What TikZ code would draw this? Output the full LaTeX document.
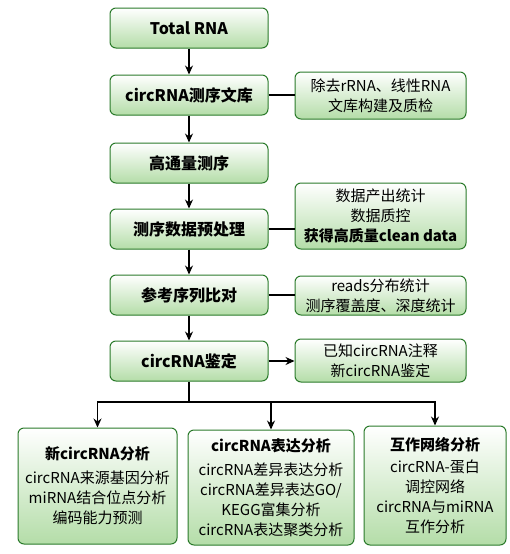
\documentclass[tikz,border=0pt]{standalone}
\usepackage{fontspec}
\setmainfont{Noto Sans CJK SC}
\usetikzlibrary{arrows.meta,positioning}
\definecolor{boxline}{HTML}{2A7A2A}
\definecolor{boxfill}{HTML}{B4DDA8}

\begin{document}
\begin{tikzpicture}[x=1pt,y=-1pt]
\tikzset{
  flowbox/.style={rectangle,rounded corners=6pt,draw=boxline,line width=1pt,
    top color=white,bottom color=boxfill,align=center,inner sep=2pt},
  mainbox/.style={flowbox,minimum width=158pt,minimum height=40pt,
    font=\fontsize{16}{20}\selectfont\bfseries},
  sidebox/.style={flowbox,minimum width=171pt,font=\fontsize{15}{20}\selectfont},
  resultbox/.style={flowbox,font=\fontsize{15}{20}\selectfont},
  directed/.style={-{Stealth[length=9pt,width=8pt]},line width=1.2pt},
  undirected/.style={line width=1.2pt}
}
\useasboundingbox (0,0) rectangle (509,554);
\node[mainbox] (n_m1) at (189,28) {Total RNA};
\node[mainbox] (n_m2) at (189,95) {circRNA测序文库};
\node[mainbox] (n_m3) at (189,163) {高通量测序};
\node[mainbox] (n_m4) at (189,229) {测序数据预处理};
\node[mainbox] (n_m5) at (189,295) {参考序列比对};
\node[mainbox] (n_m6) at (189,361) {circRNA鉴定};
\node[sidebox,minimum height=47pt] (n_r1) at (380.5,95.5) {除去rRNA、线性RNA\\文库构建及质检};
\node[sidebox,minimum height=66pt] (n_r2) at (380.5,216) {数据产出统计\\数据质控\\\textbf{获得高质量clean data}};
\node[sidebox,minimum height=39pt] (n_r3) at (380.5,295.5) {reads分布统计\\测序覆盖度、深度统计};
\node[sidebox,minimum height=43pt] (n_r4) at (380.5,360.5) {已知circRNA注释\\新circRNA鉴定};
\node[resultbox,minimum width=159pt,minimum height=116pt] (n_b1) at (97.5,486)
  {\textbf{新circRNA分析}\\[4pt]circRNA来源基因分析\\miRNA结合位点分析\\编码能力预测};
\node[resultbox,minimum width=166pt,minimum height=115pt] (n_b2) at (271,487.5)
  {\textbf{circRNA表达分析}\\[4pt]circRNA差异表达分析\\circRNA差异表达GO/\\KEGG富集分析\\circRNA表达聚类分析};
\node[resultbox,minimum width=142pt,minimum height=119pt] (n_b3) at (435,485.5)
  {\textbf{互作网络分析}\\[2pt]circRNA-蛋白\\调控网络\\circRNA与miRNA\\互作分析};
\coordinate (n_split) at (189,402);
\draw[directed] (n_m1) -- (n_m2);
\draw[directed] (n_m2) -- (n_m3);
\draw[directed] (n_m3) -- (n_m4);
\draw[directed] (n_m4) -- (n_m5);
\draw[directed] (n_m5) -- (n_m6);
\draw[undirected] (n_m2) -- (n_m2 -| n_r1.west);
\draw[undirected] (n_m4) -- (n_m4 -| n_r2.west);
\draw[undirected] (n_m5) -- (n_m5 -| n_r3.west);
\draw[directed] (n_m6) -- (n_m6 -| n_r4.west);
\draw[undirected] (n_m6) -- (n_split);
\draw[directed] (n_split) -| (n_b1.north);
\draw[directed] (n_split) -| (n_b2.north);
\draw[directed] (n_split) -| (n_b3.north);
\end{tikzpicture}
\end{document}
